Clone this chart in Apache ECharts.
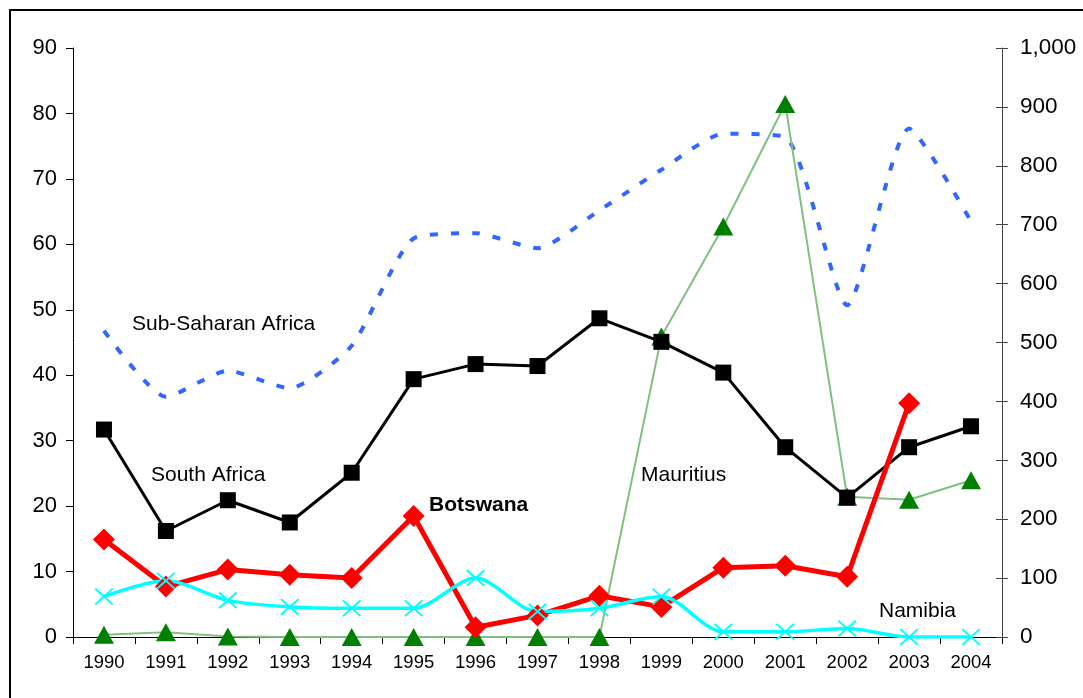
<!DOCTYPE html>
<html>
<head>
<meta charset="utf-8">
<script src="https://cdn.jsdelivr.net/npm/echarts@6/dist/echarts.min.js"></script>
<style>
html,body{margin:0;padding:0;background:#fff;}
#chart{width:1083px;height:698px;}
</style>
</head>
<body>
<div id="chart"></div>
<script>
const years = ['1990','1991','1992','1993','1994','1995','1996','1997','1998','1999','2000','2001','2002','2003','2004'];
const subSaharanAfrica = [46.8, 36.7, 40.7, 38.0, 44.5, 60.9, 61.7, 59.4, 65.2, 71.4, 76.9, 76.4, 50.7, 77.7, 63.5];
const southAfrica = [31.7, 16.2, 20.9, 17.5, 25.1, 39.4, 41.7, 41.4, 48.7, 45.1, 40.4, 29.0, 21.3, 29.0, 32.2];
const botswana = [14.9, 7.7, 10.3, 9.5, 9.0, 18.5, 1.5, 3.3, 6.3, 4.6, 10.6, 10.9, 9.2, 35.7, null];
const namibia = [6.2, 8.6, 5.6, 4.6, 4.4, 4.4, 9.0, 3.9, 4.4, 6.2, 0.8, 0.8, 1.3, 0, 0];
const mauritius = [4, 8, 1, 0, 0, 0, 0, 0, 0, 510, 697, 905, 238, 233, 266];
const leftTicks = {min: 0, max: 90, interval: 10};
const rightTicks = {min: 0, max: 1000, interval: 100};

const FONT = '"Liberation Sans", Arial, sans-serif';
const xPath = 'path://M0,1.5 L1.5,0 L10,8.5 L18.5,0 L20,1.5 L11.5,10 L20,18.5 L18.5,20 L10,11.5 L1.5,20 L0,18.5 L8.5,10 Z';

const chart = echarts.init(document.getElementById('chart'), null, {renderer: 'canvas'});
const option = {
  animation: false,
  backgroundColor: '#fff',
  grid: {left: 73, right: 81, top: 48, bottom: 61, containLabel: false},
  xAxis: {
    type: 'category',
    data: years,
    boundaryGap: true,
    axisLine: {lineStyle: {color: '#000', width: 1}},
    axisTick: {show: true, length: 7, interval: 0, lineStyle: {color: '#000'}},
    axisLabel: {color: '#000', fontFamily: FONT, fontSize: 18.5, margin: 16, interval: 0}
  },
  yAxis: [
    {
      type: 'value', position: 'left', min: leftTicks.min, max: leftTicks.max, interval: leftTicks.interval,
      splitLine: {show: false},
      axisLine: {show: true, lineStyle: {color: '#000', width: 1}},
      axisTick: {show: true, length: 7, lineStyle: {color: '#000'}},
      axisLabel: {color: '#000', fontFamily: FONT, fontSize: 22, margin: 16}
    },
    {
      type: 'value', position: 'right', min: rightTicks.min, max: rightTicks.max, interval: rightTicks.interval,
      splitLine: {show: false},
      axisLine: {show: true, lineStyle: {color: '#444', width: 1}},
      axisTick: {show: true, length: 6, lineStyle: {color: '#444'}},
      axisLabel: {color: '#000', fontFamily: FONT, fontSize: 22.5, margin: 18,
        formatter: v => v.toLocaleString('en-US')}
    },
    {
      type: 'value', position: 'right', min: rightTicks.min, max: rightTicks.max, interval: rightTicks.interval,
      splitLine: {show: false},
      axisLine: {show: false},
      axisTick: {show: true, inside: true, length: 6, lineStyle: {color: '#444'}},
      axisLabel: {show: false}
    }
  ],
  series: [
    {
      name: 'Sub-Saharan Africa', type: 'line', yAxisIndex: 0, data: subSaharanAfrica,
      smooth: 0.2, showSymbol: false, symbol: 'none',
      lineStyle: {color: '#3366FF', width: 4, type: [8, 13], cap: 'butt'}
    },
    {
      name: 'Mauritius', type: 'line', yAxisIndex: 1, data: mauritius,
      symbol: 'triangle', symbolSize: [20, 18],
      itemStyle: {color: '#008000'},
      lineStyle: {color: '#80C080', width: 2}
    },
    {
      name: 'South Africa', type: 'line', yAxisIndex: 0, data: southAfrica,
      symbol: 'rect', symbolSize: 16,
      itemStyle: {color: '#000'},
      lineStyle: {color: '#000', width: 3}
    },
    {
      name: 'Botswana', type: 'line', yAxisIndex: 0, data: botswana,
      symbol: 'diamond', symbolSize: [22, 22],
      itemStyle: {color: '#FF0000'},
      lineStyle: {color: '#FF0000', width: 5}
    },
    {
      name: 'Namibia', type: 'line', yAxisIndex: 0, data: namibia,
      smooth: 0.3, symbol: xPath, symbolSize: [19, 17],
      itemStyle: {color: '#00FFFF'},
      lineStyle: {color: '#00FFFF', width: 3.5}
    }
  ],
  graphic: [
    {type: 'rect', z: -10, silent: true, shape: {x: 10, y: 10, width: 1090, height: 700},
      style: {fill: 'none', stroke: '#000', lineWidth: 2}},
    {type: 'text', left: 132, top: 314, style: {text: 'Sub-Saharan Africa', font: '21px ' + FONT, fill: '#000'}},
    {type: 'text', left: 151, top: 465, style: {text: 'South Africa', font: '21px ' + FONT, fill: '#000'}},
    {type: 'text', left: 429, top: 495, style: {text: 'Botswana', font: 'bold 21px ' + FONT, fill: '#000'}},
    {type: 'text', left: 641, top: 465, style: {text: 'Mauritius', font: '21px ' + FONT, fill: '#000'}},
    {type: 'text', left: 879, top: 601, style: {text: 'Namibia', font: '21px ' + FONT, fill: '#000'}}
  ]
};
chart.setOption(option);
</script>
</body>
</html>
